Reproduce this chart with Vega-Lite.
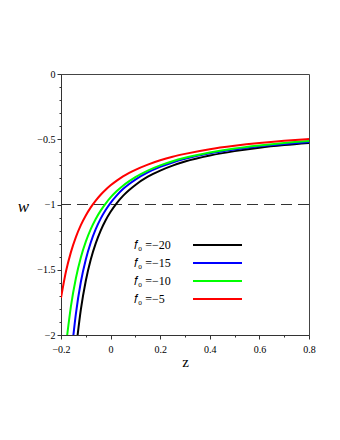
{
  "$schema": "https://vega.github.io/schema/vega-lite/v6.json",
  "autosize": {"type": "none"},
  "padding": {"left": 61, "top": 74, "right": 31, "bottom": 105},
  "width": 248,
  "height": 261,
  "background": "white",
  "config": {
    "view": {"stroke": "#444444", "strokeWidth": 1},
    "font": "Liberation Serif"
  },
  "datasets": {
    "curves": [
      {"s": "𝑓₀ =−20", "z": -0.133, "w": -2.0},
      {"s": "𝑓₀ =−20", "z": -0.12, "w": -1.806},
      {"s": "𝑓₀ =−20", "z": -0.1, "w": -1.584},
      {"s": "𝑓₀ =−20", "z": -0.08, "w": -1.421},
      {"s": "𝑓₀ =−20", "z": -0.06, "w": -1.298},
      {"s": "𝑓₀ =−20", "z": -0.04, "w": -1.2},
      {"s": "𝑓₀ =−20", "z": -0.02, "w": -1.121},
      {"s": "𝑓₀ =−20", "z": 0.0, "w": -1.056},
      {"s": "𝑓₀ =−20", "z": 0.025, "w": -0.989},
      {"s": "𝑓₀ =−20", "z": 0.05, "w": -0.934},
      {"s": "𝑓₀ =−20", "z": 0.075, "w": -0.889},
      {"s": "𝑓₀ =−20", "z": 0.1, "w": -0.85},
      {"s": "𝑓₀ =−20", "z": 0.15, "w": -0.787},
      {"s": "𝑓₀ =−20", "z": 0.2, "w": -0.74},
      {"s": "𝑓₀ =−20", "z": 0.25, "w": -0.702},
      {"s": "𝑓₀ =−20", "z": 0.3, "w": -0.671},
      {"s": "𝑓₀ =−20", "z": 0.4, "w": -0.625},
      {"s": "𝑓₀ =−20", "z": 0.5, "w": -0.591},
      {"s": "𝑓₀ =−20", "z": 0.6, "w": -0.565},
      {"s": "𝑓₀ =−20", "z": 0.7, "w": -0.545},
      {"s": "𝑓₀ =−20", "z": 0.8, "w": -0.529},

      {"s": "𝑓₀ =−15", "z": -0.15, "w": -2.0},
      {"s": "𝑓₀ =−15", "z": -0.14, "w": -1.838},
      {"s": "𝑓₀ =−15", "z": -0.12, "w": -1.594},
      {"s": "𝑓₀ =−15", "z": -0.1, "w": -1.421},
      {"s": "𝑓₀ =−15", "z": -0.08, "w": -1.291},
      {"s": "𝑓₀ =−15", "z": -0.06, "w": -1.189},
      {"s": "𝑓₀ =−15", "z": -0.04, "w": -1.108},
      {"s": "𝑓₀ =−15", "z": -0.02, "w": -1.042},
      {"s": "𝑓₀ =−15", "z": 0.0, "w": -0.987},
      {"s": "𝑓₀ =−15", "z": 0.025, "w": -0.93},
      {"s": "𝑓₀ =−15", "z": 0.05, "w": -0.882},
      {"s": "𝑓₀ =−15", "z": 0.075, "w": -0.843},
      {"s": "𝑓₀ =−15", "z": 0.1, "w": -0.809},
      {"s": "𝑓₀ =−15", "z": 0.15, "w": -0.754},
      {"s": "𝑓₀ =−15", "z": 0.2, "w": -0.712},
      {"s": "𝑓₀ =−15", "z": 0.25, "w": -0.678},
      {"s": "𝑓₀ =−15", "z": 0.3, "w": -0.65},
      {"s": "𝑓₀ =−15", "z": 0.4, "w": -0.608},
      {"s": "𝑓₀ =−15", "z": 0.5, "w": -0.578},
      {"s": "𝑓₀ =−15", "z": 0.6, "w": -0.554},
      {"s": "𝑓₀ =−15", "z": 0.7, "w": -0.536},
      {"s": "𝑓₀ =−15", "z": 0.8, "w": -0.521},

      {"s": "𝑓₀ =−10", "z": -0.175, "w": -2.0},
      {"s": "𝑓₀ =−10", "z": -0.16, "w": -1.78},
      {"s": "𝑓₀ =−10", "z": -0.14, "w": -1.565},
      {"s": "𝑓₀ =−10", "z": -0.12, "w": -1.406},
      {"s": "𝑓₀ =−10", "z": -0.1, "w": -1.285},
      {"s": "𝑓₀ =−10", "z": -0.08, "w": -1.189},
      {"s": "𝑓₀ =−10", "z": -0.06, "w": -1.111},
      {"s": "𝑓₀ =−10", "z": -0.04, "w": -1.047},
      {"s": "𝑓₀ =−10", "z": -0.02, "w": -0.993},
      {"s": "𝑓₀ =−10", "z": 0.0, "w": -0.946},
      {"s": "𝑓₀ =−10", "z": 0.025, "w": -0.897},
      {"s": "𝑓₀ =−10", "z": 0.05, "w": -0.856},
      {"s": "𝑓₀ =−10", "z": 0.075, "w": -0.821},
      {"s": "𝑓₀ =−10", "z": 0.1, "w": -0.79},
      {"s": "𝑓₀ =−10", "z": 0.15, "w": -0.74},
      {"s": "𝑓₀ =−10", "z": 0.2, "w": -0.7},
      {"s": "𝑓₀ =−10", "z": 0.25, "w": -0.668},
      {"s": "𝑓₀ =−10", "z": 0.3, "w": -0.642},
      {"s": "𝑓₀ =−10", "z": 0.4, "w": -0.601},
      {"s": "𝑓₀ =−10", "z": 0.5, "w": -0.57},
      {"s": "𝑓₀ =−10", "z": 0.6, "w": -0.547},
      {"s": "𝑓₀ =−10", "z": 0.7, "w": -0.528},
      {"s": "𝑓₀ =−10", "z": 0.8, "w": -0.513},

      {"s": "𝑓₀ =−5", "z": -0.2, "w": -1.716},
      {"s": "𝑓₀ =−5", "z": -0.18, "w": -1.514},
      {"s": "𝑓₀ =−5", "z": -0.16, "w": -1.365},
      {"s": "𝑓₀ =−5", "z": -0.14, "w": -1.25},
      {"s": "𝑓₀ =−5", "z": -0.12, "w": -1.158},
      {"s": "𝑓₀ =−5", "z": -0.1, "w": -1.084},
      {"s": "𝑓₀ =−5", "z": -0.08, "w": -1.022},
      {"s": "𝑓₀ =−5", "z": -0.06, "w": -0.97},
      {"s": "𝑓₀ =−5", "z": -0.04, "w": -0.925},
      {"s": "𝑓₀ =−5", "z": -0.02, "w": -0.887},
      {"s": "𝑓₀ =−5", "z": 0.0, "w": -0.853},
      {"s": "𝑓₀ =−5", "z": 0.025, "w": -0.817},
      {"s": "𝑓₀ =−5", "z": 0.05, "w": -0.785},
      {"s": "𝑓₀ =−5", "z": 0.075, "w": -0.758},
      {"s": "𝑓₀ =−5", "z": 0.1, "w": -0.734},
      {"s": "𝑓₀ =−5", "z": 0.15, "w": -0.694},
      {"s": "𝑓₀ =−5", "z": 0.2, "w": -0.661},
      {"s": "𝑓₀ =−5", "z": 0.25, "w": -0.634},
      {"s": "𝑓₀ =−5", "z": 0.3, "w": -0.612},
      {"s": "𝑓₀ =−5", "z": 0.4, "w": -0.576},
      {"s": "𝑓₀ =−5", "z": 0.5, "w": -0.55},
      {"s": "𝑓₀ =−5", "z": 0.6, "w": -0.529},
      {"s": "𝑓₀ =−5", "z": 0.7, "w": -0.512},
      {"s": "𝑓₀ =−5", "z": 0.8, "w": -0.498}
    ]
  },
  "encoding": {
    "y": {
      "field": "w", "type": "quantitative",
      "scale": {"domain": [-2, 0], "nice": false},
      "axis": {
        "title": "w",
        "values": [0, -0.1, -0.2, -0.3, -0.4, -0.5, -0.6, -0.7, -0.8, -0.9, -1, -1.1, -1.2, -1.3, -1.4, -1.5, -1.6, -1.7, -1.8, -1.9, -2],
        "format": "~g",
        "labelExpr": "(round(datum.value*10)%5==0) ? datum.label : ''",
        "labelOverlap": false,
        "grid": false,
        "domainColor": "#333333",
        "tickColor": "#333333",
        "tickSize": {"condition": {"test": "round(datum.value*10)%5==0", "value": 4}, "value": 2},
        "labelFont": "Liberation Serif",
        "labelFontSize": 10,
        "labelColor": "#000000",
        "labelPadding": 2,
        "labelFlush": false,
        "titleFont": "Liberation Serif",
        "titleFontSize": 17,
        "titleFontStyle": "italic",
        "titleFontWeight": "normal",
        "titleColor": "#000000",
        "titleAngle": 0,
        "titleAlign": "center",
        "titleBaseline": "middle",
        "titleX": -38,
        "titleY": 132
      }
    }
  },
  "layer": [
    {
      "data": {"values": [{"w": -1}]},
      "mark": {"type": "rule", "color": "#333333", "strokeWidth": 1, "strokeDash": [11, 6]}
    },
    {
      "data": {"name": "curves"},
      "mark": {"type": "line", "strokeWidth": 2, "clip": true, "interpolate": "monotone"},
      "encoding": {
        "x": {
          "field": "z", "type": "quantitative",
          "scale": {"domain": [-0.2, 0.8], "nice": false, "zero": false},
          "axis": {
            "title": "z",
            "values": [-0.2, -0.1, 0, 0.1, 0.2, 0.3, 0.4, 0.5, 0.6, 0.7, 0.8],
            "format": "~g",
            "labelExpr": "(round(datum.value*10)%2==0) ? datum.label : ''",
            "labelOverlap": false,
            "grid": false,
            "domainColor": "#333333",
            "tickColor": "#333333",
            "tickSize": {"condition": {"test": "round(datum.value*10)%2==0", "value": 4}, "value": 2},
            "labelFont": "Liberation Serif",
            "labelFontSize": 10,
            "labelColor": "#000000",
            "labelPadding": 5,
            "labelFlush": false,
            "titleFont": "Liberation Serif",
            "titleFontSize": 15,
            "titleFontWeight": "normal",
            "titleColor": "#000000",
            "titlePadding": 0
          }
        },
        "color": {
          "field": "s", "type": "nominal",
          "scale": {
            "domain": ["𝑓₀ =−20", "𝑓₀ =−15", "𝑓₀ =−10", "𝑓₀ =−5"],
            "range": ["#000000", "#0000ff", "#00ff00", "#ff0000"]
          },
          "legend": {
            "title": null,
            "orient": "none",
            "legendX": 150.5,
            "legendY": 165,
            "padding": 0,
            "symbolType": "M-5,0H5",
            "symbolSize": 96,
            "symbolStrokeWidth": 2,
            "rowPadding": 6,
            "labelAlign": "left",
            "labelOffset": -89.5,
            "labelFont": "Liberation Serif",
            "labelFontSize": 12,
            "labelColor": "#000000",
            "labelLimit": 200
          }
        }
      }
    }
  ]
}
